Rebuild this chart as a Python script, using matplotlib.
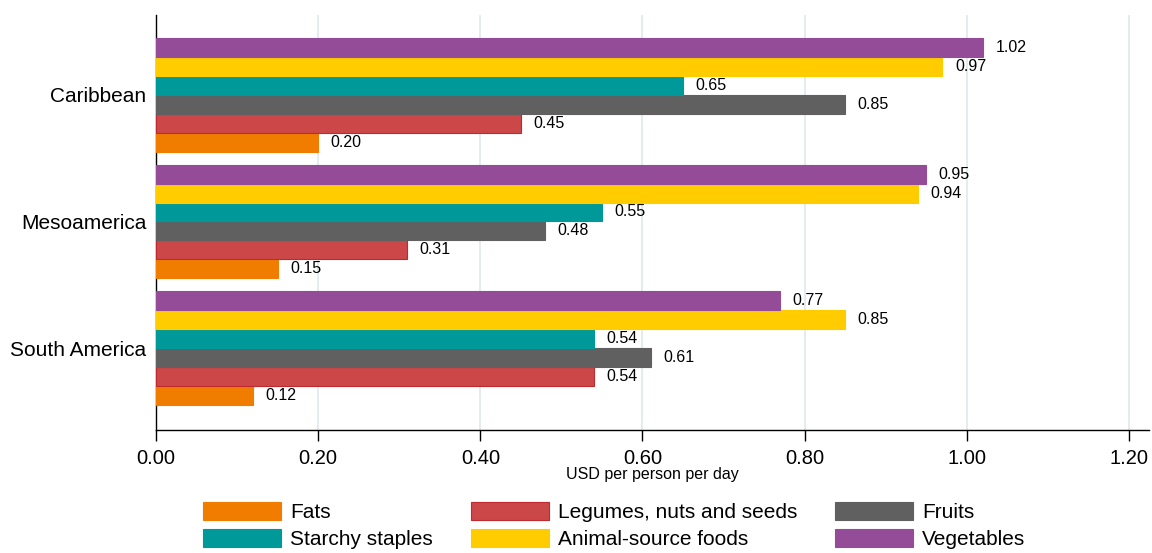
import numpy as np
import matplotlib

matplotlib.use("Agg")
import matplotlib.pyplot as plt

plt.rcParams["font.family"] = ["Liberation Sans", "DejaVu Sans"]

regions = ["Caribbean", "Mesoamerica", "South America"]
fats = [0.20, 0.15, 0.12]
legumes = [0.45, 0.31, 0.54]
fruits = [0.85, 0.48, 0.61]
starchy = [0.65, 0.55, 0.54]
animal = [0.97, 0.94, 0.85]
vegetables = [1.02, 0.95, 0.77]
xticks = [0.0, 0.2, 0.4, 0.6, 0.8, 1.0, 1.2]

colors = {
    "Fats": "#F07D00",
    "Legumes, nuts and seeds": "#CC4748",
    "Fruits": "#606060",
    "Starchy staples": "#009999",
    "Animal-source foods": "#FFCC00",
    "Vegetables": "#944C99",
}
edges = {k: v for k, v in colors.items()}
edges["Legumes, nuts and seeds"] = "#C02A2F"

values = {
    "Fats": fats,
    "Legumes, nuts and seeds": legumes,
    "Fruits": fruits,
    "Starchy staples": starchy,
    "Animal-source foods": animal,
    "Vegetables": vegetables,
}
# bottom-to-top order inside each group
stack = ["Fats", "Legumes, nuts and seeds", "Fruits", "Starchy staples",
         "Animal-source foods", "Vegetables"]

fig = plt.figure(figsize=(11.52, 5.53), dpi=100)
ax = fig.add_axes([0.1354, 0.2224, 0.862, 0.7505])

h = 0.15
y = np.arange(len(regions))
handles = {}
for i, name in enumerate(stack):
    off = (2.5 - i) * h
    bars = ax.barh(y + off, values[name], height=h, color=colors[name],
                   edgecolor=edges[name], linewidth=0.8, label=name, zorder=3)
    ax.bar_label(bars, fmt="%.2f", padding=9, fontsize=11.5)
    handles[name] = bars

ax.set_ylim(2.648, -0.632)
ax.set_xlim(0, 1.2247)
ax.set_yticks(y)
ax.set_yticklabels(regions, fontsize=15)
ax.set_xticks(xticks)
ax.set_xticklabels(["%.2f" % v for v in xticks], fontsize=14.5)
ax.tick_params(axis="y", length=0, pad=7)
ax.tick_params(axis="x", length=8, width=1, pad=6, direction="out")
ax.grid(axis="x", color="#E3ECEF", linewidth=1.4, zorder=0)
ax.set_axisbelow(True)
for s in ["top", "right"]:
    ax.spines[s].set_visible(False)
ax.spines["left"].set_linewidth(1.0)
ax.spines["bottom"].set_linewidth(1.0)
ax.set_xlabel("USD per person per day", fontsize=11.5, labelpad=-1)

order = ["Fats", "Starchy staples", "Legumes, nuts and seeds",
         "Animal-source foods", "Fruits", "Vegetables"]
fig.legend([handles[k] for k in order], order, loc="upper left",
           bbox_to_anchor=(0.176, 0.093), ncol=3, frameon=False,
           fontsize=15, handlelength=3.75, handleheight=0.96,
           columnspacing=1.8, labelspacing=0.35, handletextpad=0.45,
           borderaxespad=0, borderpad=0)

fig.savefig("out.png", dpi=100)
